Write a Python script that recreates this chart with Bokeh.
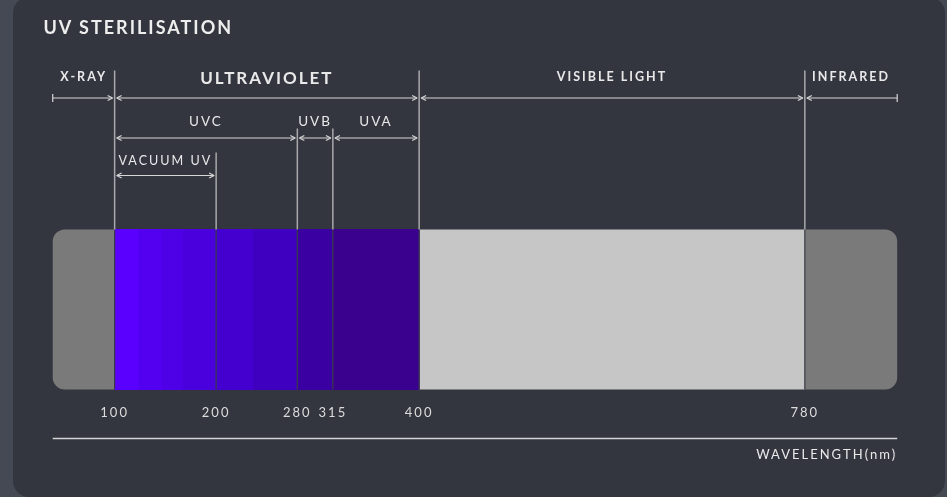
from bokeh.plotting import figure
from bokeh.models import (Range1d, ColumnDataSource, Arrow, OpenHead, TeeHead,
                          Label, GlobalInlineStyleSheet)
from bokeh.embed import file_html
from bokeh.resources import INLINE
from bokeh.core.properties import value

# ---------------- data ----------------
TITLE = "UV STERILISATION"
regions = ["X-RAY", "ULTRAVIOLET", "VISIBLE LIGHT", "INFRARED"]
region_start = [39, 100, 400, 780]
region_end = [100, 400, 780, 871]
uv_bands = ["UVC", "UVB", "UVA"]
uv_start = [100, 280, 315]
uv_end = [280, 315, 400]
vac_bands = ["VACUUM UV"]
vac_start = [100]
vac_end = [200]
ticks = [100, 200, 280, 315, 400, 780]
tick_labels = ["100", "200", "280", "315", "400", "780"]
grad_edges = [100, 124, 147, 168, 200, 237, 280, 315, 400]
grad_colors = ["#5a00ff", "#5300f1", "#4e00e6", "#4a00dc", "#4400cf",
               "#3f00bf", "#3b00a2", "#3a008e"]
axis_label = "WAVELENGTH(nm)"

# ---------------- style ----------------
W, H = 931, 481
LS = 2.0                       # letter spacing (px)
PX0, PX_PER_NM = 12.63, 1.015  # page-x mapping
TDY = -6                       # text baseline correction (px)


def nm_at(px):
    return (px - PX0) / PX_PER_NM


GAP = 2 / PX_PER_NM
TXT = "#e9e9ea"
ARROW_C = "#d6d6d6"
VLINE_C = "#a9a9ab"
SEP_C = "#3a3c48"
FONT = value("Lato")
BAR_TOP, BAR_BOT = 229, 389

p = figure(width=W, height=H, output_backend="svg", toolbar_location=None,
           x_range=Range1d(nm_at(0), nm_at(W)),
           y_range=Range1d(H, 0), min_border=0)
p.axis.visible = False
p.grid.visible = False
p.outline_line_color = None
p.background_fill_color = None
p.border_fill_color = None
p.stylesheets = [GlobalInlineStyleSheet(css=(
    "html,body{margin:0;padding:0;overflow:hidden;}"
    "body{background:#454954;letter-spacing:%gpx;}"
    "body::before{content:'';position:fixed;left:13px;top:-3px;width:932px;"
    "height:500px;background:#33363f;border-radius:16px;z-index:-1;}" % LS))]

# ---------------- bar ----------------
p.quad(left=[region_start[0]], right=[region_end[0]], top=BAR_TOP, bottom=BAR_BOT,
       fill_color="#7a7a7a", line_color=None, border_radius=(12, 0, 0, 12))
p.quad(left=[region_start[3]], right=[region_end[3]], top=BAR_TOP, bottom=BAR_BOT,
       fill_color="#7a7a7a", line_color=None, border_radius=(0, 12, 12, 0))
p.quad(left=[region_start[2]], right=[region_end[2]], top=BAR_TOP, bottom=BAR_BOT,
       fill_color="#c6c6c6", line_color=None)
p.quad(left=grad_edges[:-1], right=grad_edges[1:], top=BAR_TOP, bottom=BAR_BOT,
       fill_color=grad_colors, line_color=grad_colors, line_width=1)
p.segment(x0=ticks, x1=ticks, y0=BAR_TOP, y1=BAR_BOT, line_color=SEP_C, line_width=1.2)

# ---------------- vertical guide lines ----------------
LEVEL_TOP = {"region": 70, "uv": 128, "vac": 152}
tops = []
for t in ticks:
    if t in region_start[1:] or t in region_end[:-1]:
        tops.append(LEVEL_TOP["region"])
    elif t in uv_start or t in uv_end:
        tops.append(LEVEL_TOP["uv"])
    else:
        tops.append(LEVEL_TOP["vac"])
p.segment(x0=ticks, x1=ticks, y0=tops, y1=BAR_TOP, line_color=VLINE_C, line_width=1.5)

# ---------------- dimension arrows ----------------
def add_arrows(x0, x1, y, start, end):
    src = ColumnDataSource(dict(x0=x0, x1=x1, y=[y] * len(x0)))
    p.add_layout(Arrow(x_start="x0", y_start="y", x_end="x1", y_end="y", source=src,
                       start=start, end=end, line_color=ARROW_C, line_width=1.2))


def oh():
    return OpenHead(size=5, line_color=ARROW_C, line_width=1.2)


def th():
    return TeeHead(size=8, line_color=ARROW_C, line_width=1.2)


ROW1, ROW2, ROW3 = 97.5, 137.5, 175
add_arrows([region_start[0]], [region_end[0] - GAP], ROW1, th(), oh())
add_arrows([s + GAP for s in region_start[1:3]], [e - GAP for e in region_end[1:3]], ROW1, oh(), oh())
add_arrows([region_start[3] + GAP], [region_end[3]], ROW1, oh(), th())
add_arrows([s + GAP for s in uv_start], [e - GAP for e in uv_end], ROW2, oh(), oh())
add_arrows([s + GAP for s in vac_start], [e - GAP for e in vac_end], ROW3, oh(), oh())


def center_text(labels, xs, y, size, bold=False, color=TXT):
    p.text(x=xs, y=[y + TDY] * len(xs), text=labels,
           x_offset=[-LS * len(t) / 2 for t in labels],
           text_font=FONT, text_font_size=size,
           text_font_style="bold" if bold else "normal",
           text_align="center", text_baseline="alphabetic", text_color=color)


mids = [(s + e) / 2 for s, e in zip(region_start, region_end)]
center_text([regions[0], regions[2], regions[3]], [mids[0], mids[2], mids[3]], 82, "12.5px", True)
center_text([regions[1]], [mids[1]], 83, "17px", True)
center_text(uv_bands, [(s + e) / 2 for s, e in zip(uv_start, uv_end)], 126, "13.5px")
center_text(vac_bands, [(s + e) / 2 for s, e in zip(vac_start, vac_end)], 166, "12.6px")
center_text(tick_labels, ticks, 417, "13px", color="#dcdcdc")

# axis line + label
p.segment(x0=[region_start[0]], x1=[region_end[-1]], y0=438, y1=438,
          line_color="#d4d4d4", line_width=1.5)
p.text(x=[region_end[-1]], y=[459 + TDY], text=[axis_label], x_offset=[-LS * len(axis_label)],
       text_font=FONT, text_font_size="13px", text_align="right",
       text_baseline="alphabetic", text_color=TXT)

# title
p.add_layout(Label(x=nm_at(43), y=32 + TDY, text=TITLE, text_font="Lato", text_font_size="18px",
                   text_font_style="bold", text_color="#eeeeee",
                   text_align="left", text_baseline="alphabetic"))

open("out.html", "w").write(file_html(p, INLINE))
